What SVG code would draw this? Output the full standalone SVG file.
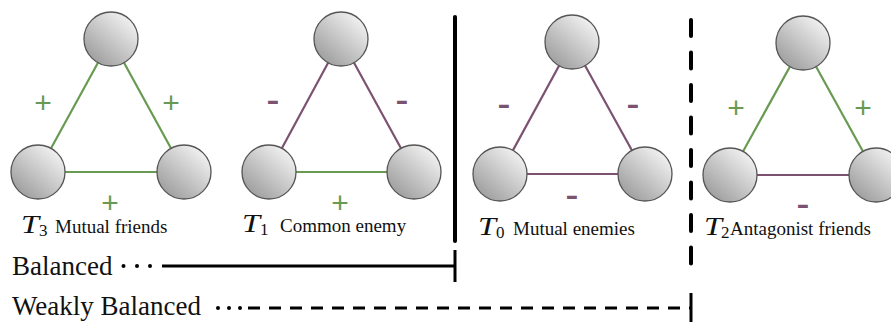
<svg xmlns="http://www.w3.org/2000/svg" width="891" height="322" viewBox="0 0 891 322">
<defs>
<linearGradient id="g" x1="0.85" y1="0.1" x2="0.15" y2="0.9">
<stop offset="0" stop-color="#f2f2f2"/>
<stop offset="1" stop-color="#9e9e9e"/>
</linearGradient>
</defs>
<style>
.n{fill:url(#g);stroke:#555;stroke-width:1.3}
.pos{stroke:#689a52;stroke-width:2.2}
.neg{stroke:#7b5270;stroke-width:2.2}
.mp{font-family:'Liberation Sans',Arial,sans-serif;font-size:30px;fill:#689a52;text-anchor:middle}
.mn{font-family:'Liberation Sans',Arial,sans-serif;font-size:40px;fill:#7b5270;text-anchor:middle}
.t{font-family:'Liberation Serif','Times New Roman',serif;font-style:italic;font-size:25px;fill:#111}
.sub{font-family:'Liberation Serif','Times New Roman',serif;font-size:17px;fill:#111}
.lbl{font-family:'Liberation Serif','Times New Roman',serif;font-size:19px;fill:#111}
.big{font-family:'Liberation Serif','Times New Roman',serif;font-size:27px;fill:#111}
.bl{stroke:#000;fill:none}
</style>
<rect width="891" height="322" fill="#fff"/>
<g id="connectors">
<line class="pos" x1="111" y1="39" x2="38" y2="172"/>
<line class="pos" x1="111" y1="39" x2="184" y2="172"/>
<line class="pos" x1="38" y1="172" x2="184" y2="172"/>
<line class="neg" x1="341" y1="39" x2="269" y2="172"/>
<line class="neg" x1="341" y1="39" x2="414" y2="172"/>
<line class="pos" x1="269" y1="172" x2="414" y2="172"/>
<line class="neg" x1="572" y1="42" x2="500" y2="174"/>
<line class="neg" x1="572" y1="42" x2="645" y2="174"/>
<line class="neg" x1="500" y1="174" x2="645" y2="174"/>
<line class="pos" x1="803" y1="43" x2="730" y2="175"/>
<line class="pos" x1="803" y1="43" x2="876" y2="175"/>
<line class="neg" x1="730" y1="175" x2="876" y2="175"/>
</g>
<g id="signs">
<text class="mp" x="43" y="112.5">+</text>
<text class="mp" x="171" y="112.5">+</text>
<text class="mp" x="110" y="212.5">+</text>
<text class="mn" x="273" y="113">-</text>
<text class="mn" x="402" y="113">-</text>
<text class="mp" x="340" y="212.5">+</text>
<text class="mn" x="504" y="117">-</text>
<text class="mn" x="633" y="117">-</text>
<text class="mn" x="572" y="208">-</text>
<text class="mp" x="736" y="117.5">+</text>
<text class="mp" x="863" y="117.5">+</text>
<text class="mn" x="803" y="217">-</text>
</g>
<g id="T3">
<circle class="n" cx="111" cy="39" r="27"/>
<circle class="n" cx="38" cy="172" r="27"/>
<circle class="n" cx="184" cy="172" r="27"/>
<text class="t" x="21" y="233" textLength="18" lengthAdjust="spacingAndGlyphs">T</text>
<text class="sub" x="39" y="236">3</text>
<text class="lbl" x="55" y="233">Mutual friends</text>
</g>
<g id="T1">
<circle class="n" cx="341" cy="39" r="27"/>
<circle class="n" cx="269" cy="172" r="27"/>
<circle class="n" cx="414" cy="172" r="27"/>
<text class="t" x="242" y="232" textLength="18" lengthAdjust="spacingAndGlyphs">T</text>
<text class="sub" x="260" y="235">1</text>
<text class="lbl" x="280" y="232">Common enemy</text>
</g>
<g id="T0">
<circle class="n" cx="572" cy="42" r="27"/>
<circle class="n" cx="500" cy="174" r="27"/>
<circle class="n" cx="645" cy="174" r="27"/>
<text class="t" x="478" y="235" textLength="18" lengthAdjust="spacingAndGlyphs">T</text>
<text class="sub" x="496" y="238">0</text>
<text class="lbl" x="513" y="235">Mutual enemies</text>
</g>
<g id="T2">
<circle class="n" cx="803" cy="43" r="27"/>
<circle class="n" cx="730" cy="175" r="27"/>
<circle class="n" cx="876" cy="175" r="27"/>
<text class="t" x="704" y="235" textLength="18" lengthAdjust="spacingAndGlyphs">T</text>
<text class="sub" x="721" y="238">2</text>
<text class="lbl" x="730" y="235">Antagonist friends</text>
</g>
<g id="legend">
<line class="bl" x1="455" y1="17" x2="455" y2="241" stroke-width="4" stroke-linecap="round"/>
<line class="bl" x1="691" y1="20" x2="691" y2="280" stroke-width="4" stroke-linecap="round" stroke-dasharray="16 16.5"/>
<text class="big" x="12" y="275">Balanced</text>
<circle cx="123.5" cy="266" r="2"/>
<circle cx="137" cy="266" r="2"/>
<circle cx="150" cy="266" r="2"/>
<line class="bl" x1="162" y1="266" x2="455" y2="266" stroke-width="3"/>
<line class="bl" x1="455" y1="250" x2="455" y2="282" stroke-width="3"/>
<text class="big" x="12" y="315">Weakly Balanced</text>
<circle cx="218" cy="308" r="2"/>
<circle cx="229" cy="308" r="2"/>
<circle cx="240" cy="308" r="2"/>
<line class="bl" x1="248" y1="308" x2="690" y2="308" stroke-width="3" stroke-dasharray="12 9"/>
<line class="bl" x1="691" y1="293" x2="691" y2="322" stroke-width="3"/>
</g>
</svg>
